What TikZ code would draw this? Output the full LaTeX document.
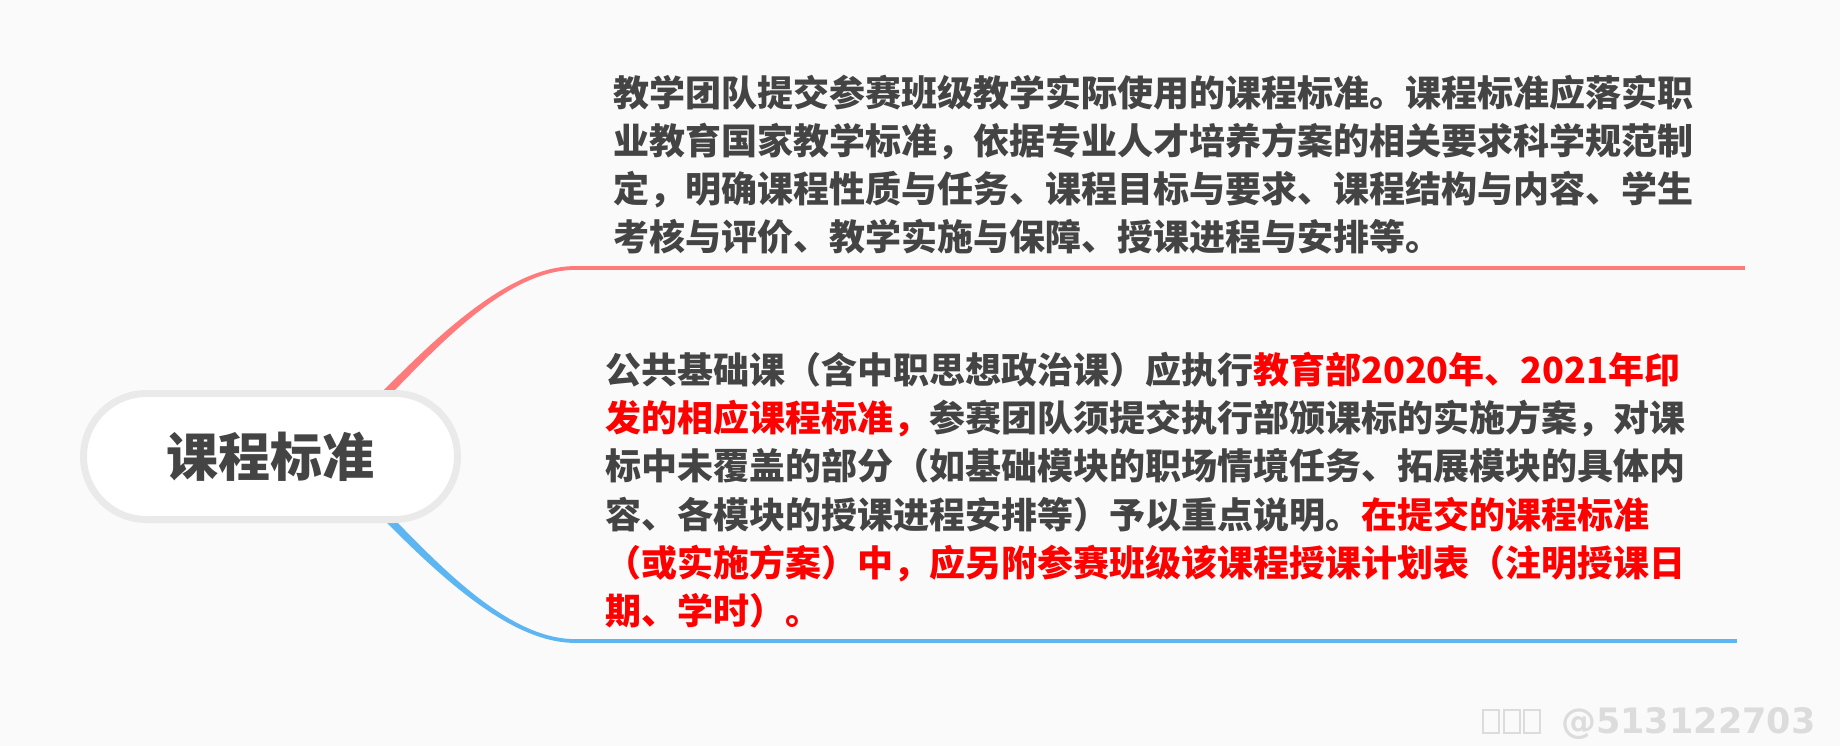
\documentclass[tikz,border=0pt]{standalone}
\usepackage{fontspec}
\newfontfamily\cjk{Noto Sans CJK SC}
\newfontfamily\wmfont{DejaVu Sans}
\definecolor{bg}{HTML}{FAFAFA}
\definecolor{txt}{HTML}{444444}
\definecolor{hl}{HTML}{FF0000}
\definecolor{redline}{HTML}{FF7B7B}
\definecolor{blueline}{HTML}{5DB6F2}
\definecolor{pillborder}{HTML}{EAEAEA}
\definecolor{wmc}{HTML}{DCDCDC}
\begin{document}
\begin{tikzpicture}[x=1pt,y=-1pt,
  para/.style={anchor=base west, inner sep=0pt, text=txt,
    font=\cjk\bfseries\fontsize{36}{36}\selectfont},
  pill/.style={draw=pillborder, line width=7pt, fill=white,
    rounded corners=63pt, minimum width=374pt, minimum height=126pt,
    inner sep=0pt, text=txt, font=\cjk\bfseries\fontsize{52}{52}\selectfont},
  stem/.style={line width=3.8pt}]
\fill[bg] (0,0) rectangle (1840,746);
\useasboundingbox (0,0) rectangle (1840,746);
% connectors (tapered branches, then straight stems)
\coordinate (r0) at (360,420);
\coordinate (r1) at (575,268);
\coordinate (r2) at (1745,268);
\coordinate (b0) at (360,490);
\coordinate (b1) at (575,641);
\coordinate (b2) at (1737,641);
\fill[redline] ([shift={(2.9,2.9)}]r0) .. controls (422.9,362.9) and (500,269.9) .. ([shift={(0,1.9)}]r1)
  -- ([shift={(0,-1.9)}]r1) .. controls (500,266.1) and (417.1,357.1) .. ([shift={(-2.9,-2.9)}]r0) -- cycle;
\draw[stem, redline] (r1) -- (r2);
\fill[blueline] ([shift={(2.9,-2.9)}]b0) .. controls (422.9,547.1) and (500,639.1) .. ([shift={(0,-1.9)}]b1)
  -- ([shift={(0,1.9)}]b1) .. controls (500,642.9) and (417.1,552.9) .. ([shift={(-2.9,2.9)}]b0) -- cycle;
\draw[stem, blueline] (b1) -- (b2);
% central node
\node[pill] (root) at (270.5,456.5) {课程标准};
% upper text
\node[para] (t1) at (613,107) {教学团队提交参赛班级教学实际使用的课程标准。课程标准应落实职};
\node[para] (t2) at (613,155) {业教育国家教学标准，依据专业人才培养方案的相关要求科学规范制};
\node[para] (t3) at (613,203) {定，明确课程性质与任务、课程目标与要求、课程结构与内容、学生};
\node[para] (t4) at (613,251) {考核与评价、教学实施与保障、授课进程与安排等。};
% lower text
\node[para] (l1) at (605,383) {公共基础课（含中职思想政治课）应执行\textcolor{hl}{教育部2020年、2021年印}};
\node[para] (l2) at (605,431) {\textcolor{hl}{发的相应课程标准，}参赛团队须提交执行部颁课标的实施方案，对课};
\node[para] (l3) at (605,479) {标中未覆盖的部分（如基础模块的职场情境任务、拓展模块的具体内};
\node[para] (l4) at (605,528) {容、各模块的授课进程安排等）予以重点说明。\textcolor{hl}{在提交的课程标准}};
\node[para, text=hl] (l5) at (605,576) {（或实施方案）中，应另附参赛班级该课程授课计划表（注明授课日};
\node[para, text=hl] (l6) at (605,624) {期、学时）。};
% watermark
\foreach \i in {0,1,2}
  \draw[wmc, line width=2pt] (1483+20.5*\i,710) rectangle ++(16,23);
\node[anchor=base west, inner sep=0pt, text=wmc,
  font=\wmfont\bfseries\fontsize{35}{35}\selectfont] (wm) at (1561,733) {@513122703};
\end{tikzpicture}
\end{document}
